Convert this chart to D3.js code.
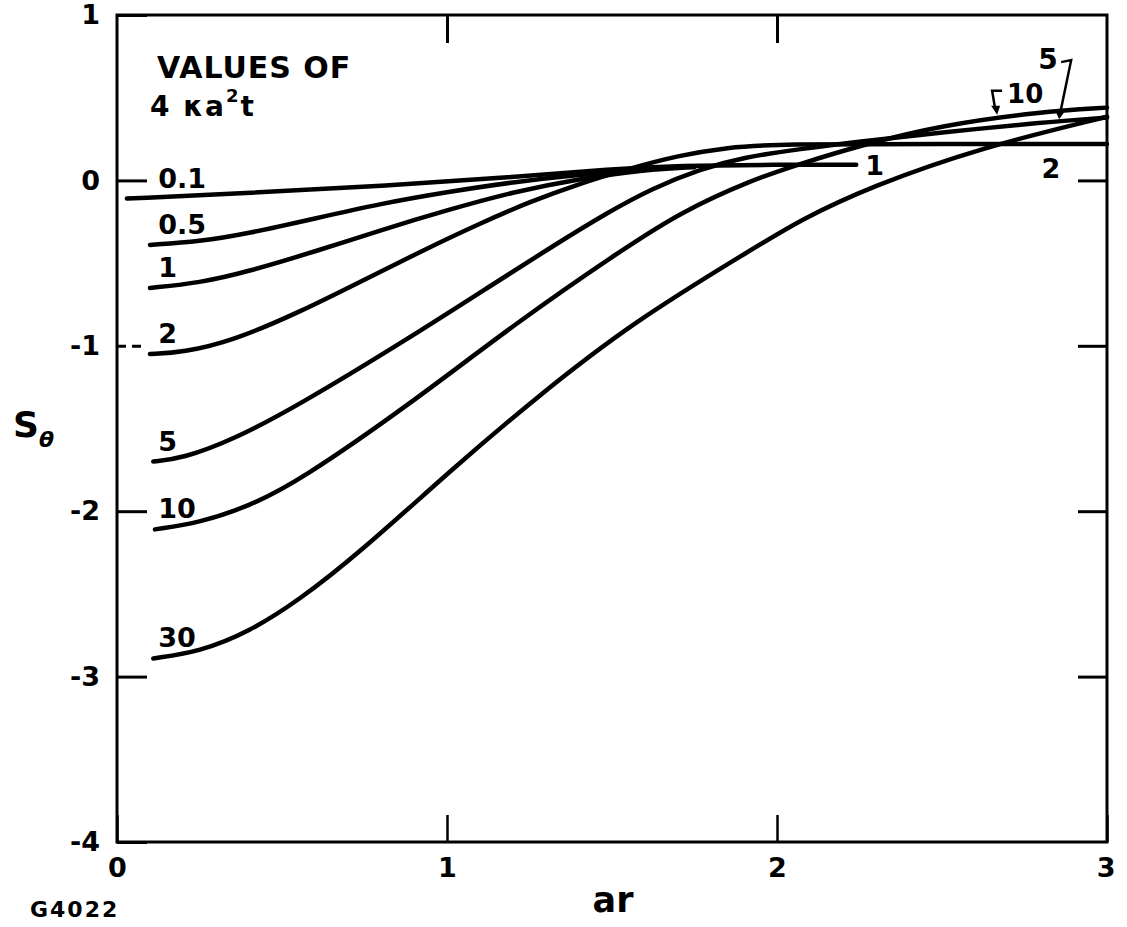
<!DOCTYPE html>
<html>
<head>
<meta charset="utf-8">
<script src="https://cdn.jsdelivr.net/npm/d3@7"></script>
<style>
    body { margin: 0; background: #fff; }
</style>
</head>
<body>
<script>
// values of 4 kappa a^2 t, one curve each
const curveLabels = ['0.1', '0.5', '1', '2', '5', '10', '30'];

const ar_01 = [0.03, 0.4, 0.8, 1.2, 1.5, 1.7, 2.0, 2.24];
const s_01 = [-0.11, -0.075, -0.035, 0.02, 0.07, 0.09, 0.095, 0.095];

const ar_05 = [0.1, 0.25, 0.4, 0.6, 0.8, 1.0, 1.2, 1.4, 1.6];
const s_05 = [-0.39, -0.37, -0.32, -0.23, -0.14, -0.07, -0.01, 0.035, 0.065];

const ar_1 = [0.1, 0.25, 0.4, 0.6, 0.8, 1.0, 1.2, 1.4, 1.6, 1.75];
const s_1 = [-0.65, -0.62, -0.55, -0.43, -0.3, -0.18, -0.07, 0.01, 0.065, 0.08];

const ar_2 = [0.1, 0.2, 0.35, 0.55, 0.75, 0.93, 1.1, 1.25, 1.4, 1.55, 1.7, 1.85, 2.0, 2.5, 3.0];
const s_2 = [-1.05, -1.04, -0.97, -0.8, -0.6, -0.42, -0.26, -0.13, -0.02, 0.07, 0.15, 0.2, 0.22, 0.22, 0.22];

const ar_5 = [0.11, 0.2, 0.35, 0.55, 0.88, 1.13, 1.31, 1.49, 1.62, 1.77, 1.9, 2.07, 2.25, 2.5, 2.8, 3.0];
const s_5 = [-1.70, -1.68, -1.57, -1.36, -0.96, -0.64, -0.41, -0.19, -0.05, 0.07, 0.14, 0.19, 0.235, 0.29, 0.35, 0.38];

const ar_10 = [0.115, 0.25, 0.4, 0.55, 0.89, 1.21, 1.53, 1.71, 1.92, 2.07, 2.25, 2.5, 2.8, 3.0];
const s_10 = [-2.11, -2.07, -1.97, -1.82, -1.35, -0.86, -0.42, -0.19, 0.0, 0.1, 0.21, 0.335, 0.415, 0.44];

const ar_30 = [0.11, 0.25, 0.4, 0.55, 0.73, 1.03, 1.26, 1.56, 1.93, 2.07, 2.28, 2.62, 3.0];
const s_30 = [-2.89, -2.85, -2.73, -2.54, -2.26, -1.72, -1.33, -0.86, -0.41, -0.24, -0.04, 0.2, 0.385];

const xTicks = [0, 1, 2, 3];
const yTicks = [1, 0, -1, -2, -3, -4];

const arLists = [ar_01, ar_05, ar_1, ar_2, ar_5, ar_10, ar_30];
const sLists = [s_01, s_05, s_1, s_2, s_5, s_10, s_30];

const series = curveLabels.map((label, i) => ({
    label: label,
    points: arLists[i].map((a, j) => [a, sLists[i][j]])
}));

const svgWidth = 1127;
const svgHeight = 927;
const font = 'DejaVu Sans, sans-serif';

const svg = d3.select('body')
    .append('svg')
    .attr('width', svgWidth)
    .attr('height', svgHeight)
    .style('background', '#fff');

const x = d3.scaleLinear()
    .domain([0, 3])
    .range([117, 1107]);

const y = d3.scaleLinear()
    .domain([-4, 1])
    .range([842, 15]);

const styleTicks = (g, w) => {
    g.select('.domain').remove();
    g.selectAll('line').attr('stroke', '#000').attr('stroke-width', w);
    g.selectAll('text')
        .attr('fill', '#000')
        .style('font-family', font)
        .style('font-size', '27px')
        .style('font-weight', 'bold');
};

// frame
svg.append('rect')
    .attr('x', x(0))
    .attr('y', y(1))
    .attr('width', x(3) - x(0))
    .attr('height', y(-4) - y(1))
    .attr('fill', 'none')
    .attr('stroke', '#000')
    .attr('stroke-width', 3);

// left axis (ticks point inward)
svg.append('g')
    .attr('transform', `translate(${x(0)},0)`)
    .call(d3.axisLeft(y)
        .tickValues(yTicks)
        .tickSizeInner(-30)
        .tickSizeOuter(0)
        .tickPadding(17)
        .tickFormat(d => d < 0 ? '-' + (-d) : String(d)))
    .call(g => styleTicks(g, 3))
    .call(g => g.selectAll('.tick').filter(d => d === -1)
        .select('line').attr('stroke-dasharray', '9,6'));

// bottom axis
svg.append('g')
    .attr('transform', `translate(0,${y(-4)})`)
    .call(d3.axisBottom(x)
        .tickValues(xTicks)
        .tickSizeInner(-27)
        .tickSizeOuter(0)
        .tickPadding(16)
        .tickFormat(d => String(d)))
    .call(g => styleTicks(g, 2.5))
    .call(g => g.selectAll('.tick').filter(d => d === 3)
        .select('text').attr('text-anchor', 'end').attr('dx', '8px'));

// top and right ticks, no labels
svg.append('g')
    .attr('transform', `translate(0,${y(1)})`)
    .call(d3.axisTop(x).tickValues([1, 2]).tickSizeInner(-28).tickSizeOuter(0).tickFormat(''))
    .call(g => styleTicks(g, 3));

svg.append('g')
    .attr('transform', `translate(${x(3)},0)`)
    .call(d3.axisRight(y).tickValues([0, -1, -2, -3]).tickSizeInner(-29).tickSizeOuter(0).tickFormat(''))
    .call(g => styleTicks(g, 3));

// curves
const line = d3.line()
    .x(d => x(d[0]))
    .y(d => y(d[1]))
    .curve(d3.curveBasis);

svg.selectAll('.curve')
    .data(series)
    .join('path')
    .attr('class', 'curve')
    .attr('d', d => line(d.points))
    .attr('fill', 'none')
    .attr('stroke', '#000')
    .attr('stroke-width', 4.5)
    .attr('stroke-linecap', 'round');

// curve labels at the left end
svg.selectAll('.clabel')
    .data(series)
    .join('text')
    .attr('class', 'clabel')
    .attr('x', x(0.125))
    .attr('y', d => y(d.points[0][1]) - 11)
    .style('font-family', font)
    .style('font-size', '27px')
    .style('font-weight', 'bold')
    .text(d => d.label);

// helper for annotation positions
const sAt = (label, a) => {
    const pts = series.find(d => d.label === label).points;
    const i = d3.bisector(d => d[0]).left(pts, a);
    if (i <= 0) return pts[0][1];
    if (i >= pts.length) return pts[pts.length - 1][1];
    const p0 = pts[i - 1], p1 = pts[i];
    return p0[1] + (p1[1] - p0[1]) * (a - p0[0]) / (p1[0] - p0[0]);
};

const addText = (tx, ty, str, size, anchor) => svg.append('text')
    .attr('x', tx)
    .attr('y', ty)
    .attr('text-anchor', anchor || 'start')
    .style('font-family', font)
    .style('font-size', size + 'px')
    .style('font-weight', 'bold')
    .text(str);

// right-end labels
const end01 = series[0].points[series[0].points.length - 1];
addText(x(end01[0]) + 9, y(end01[1]) + 10, '1', 27);
addText(x(2.83), y(0.22) + 34, '2', 27, 'middle');

// "10" with bracket arrow
const t10 = [x(2.667), y(sAt('10', 2.667)) - 3];
addText(t10[0] + 10, t10[1] - 12, '10', 26);
svg.append('path')
    .attr('d', `M${t10[0] + 5},${t10[1] - 24} L${t10[0] - 5},${t10[1] - 24} L${t10[0] - 2},${t10[1] - 6}`)
    .attr('fill', 'none').attr('stroke', '#000').attr('stroke-width', 2.5);
svg.append('path')
    .attr('d', `M${t10[0] - 6},${t10[1] - 9} L${t10[0] + 3},${t10[1] - 9} L${t10[0]},${t10[1]} Z`)
    .attr('fill', '#000');

// "5" with bent arrow
const t5 = [x(2.855), y(sAt('5', 2.855)) - 2];
addText(t5[0] - 21, t5[1] - 50, '5', 28);
svg.append('path')
    .attr('d', `M${t5[0] + 2},${t5[1] - 57} L${t5[0] + 12},${t5[1] - 59} L${t5[0] + 1},${t5[1] - 6}`)
    .attr('fill', 'none').attr('stroke', '#000').attr('stroke-width', 2.5);
svg.append('path')
    .attr('d', `M${t5[0] - 4},${t5[1] - 9} L${t5[0] + 5},${t5[1] - 7} L${t5[0]},${t5[1]} Z`)
    .attr('fill', '#000');

// legend title
addText(157, 78, 'VALUES OF', 30).style('letter-spacing', '1px');
const leg = svg.append('text')
    .attr('x', 150)
    .attr('y', 116)
    .style('font-family', font)
    .style('font-size', '28px')
    .style('font-weight', 'bold')
    .style('letter-spacing', '2px');
leg.append('tspan').text('4 κa');
leg.append('tspan').attr('dy', -14).style('font-size', '18px').text('2');
leg.append('tspan').attr('dy', 14).text('t');

// axis titles
const yTitle = svg.append('text')
    .attr('x', 13)
    .attr('y', 437)
    .style('font-family', font)
    .style('font-size', '36px')
    .style('font-weight', 'bold');
yTitle.append('tspan').text('S');
yTitle.append('tspan')
    .attr('dy', 10)
    .style('font-size', '22px')
    .style('font-style', 'italic')
    .text('θ');

addText(613, 912, 'ar', 35, 'middle');
addText(30, 917, 'G4022', 22).style('letter-spacing', '2px');
</script>
</body>
</html>
